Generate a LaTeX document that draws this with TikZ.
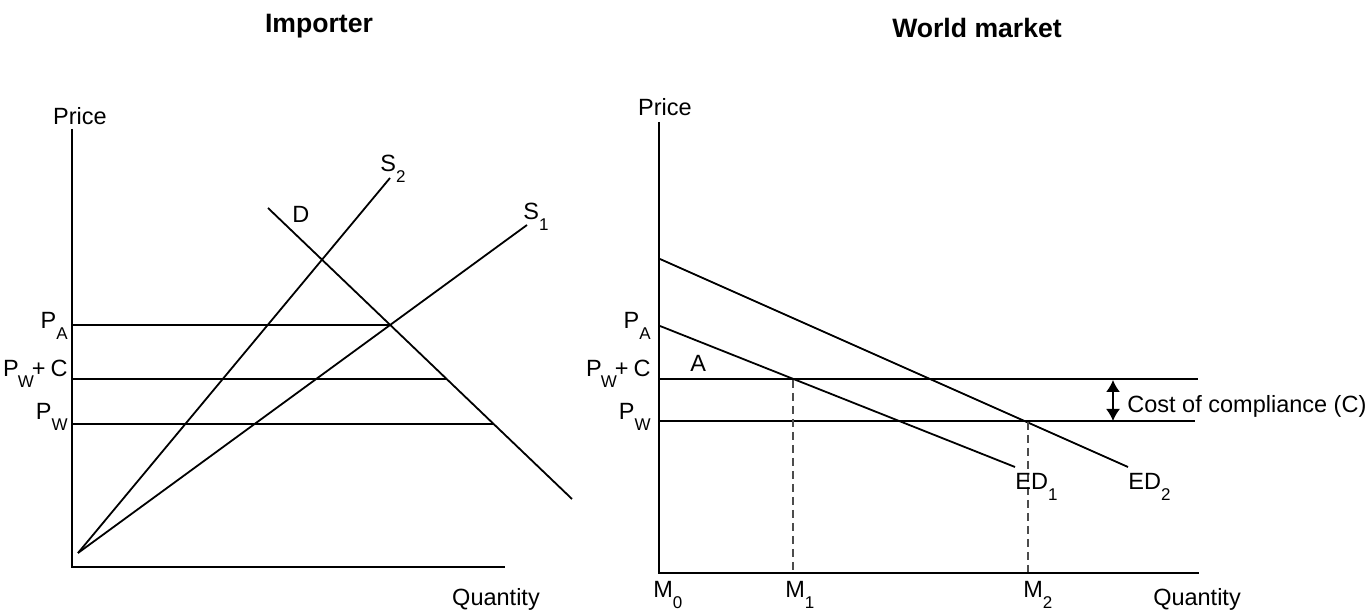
\documentclass[tikz,border=0pt]{standalone}
\usepackage{fontspec}
\setmainfont{Liberation Sans}
\usetikzlibrary{arrows.meta}
\newcommand\lowsub[1]{\raisebox{-5.5pt}{\fontsize{8.5}{9}\selectfont #1}}
\newcommand\pwc{P\kern-0.5pt\lowsub{W}\kern-1pt+\kern2.5pt C}
\tikzset{
  axis/.style={line width=1pt},
  curve/.style={line width=0.9pt},
  level/.style={line width=0.9pt},
  guide/.style={line width=0.7pt, black!70, dash pattern=on 4pt off 2.5pt},
  lbl/.style={inner sep=0pt, font=\fontsize{11.75}{13}\selectfont},
  ttl/.style={inner sep=0pt, font=\fontsize{13.3}{15}\selectfont\bfseries},
  tip/.style={line width=0.8pt, {Latex[length=6pt,width=7pt]}-{Latex[length=6pt,width=7pt]}},
}
\begin{document}
\begin{tikzpicture}[x=0.5pt,y=-0.5pt]
\useasboundingbox (0,0) rectangle (1372,613);
% titles
\node[ttl, anchor=base] (t1) at (319,33) {Importer};
\node[ttl, anchor=base] (t2) at (977,38) {World market};

% ---------- Left panel ----------
\coordinate (LO) at (72,567);
\coordinate (LYt) at (72,129);
\coordinate (LXe) at (505,567);
\draw[axis] (LYt) -- (LO) -- (LXe);
\node[lbl, anchor=base] (lp) at (80,125) {Price};
\node[lbl, anchor=base] (lq) at (496,606) {Quantity};

\coordinate (S0) at (78,553);
\coordinate (S2e) at (390,178);
\coordinate (S1e) at (527,225);
\coordinate (Da) at (268,208);
\coordinate (Db) at (572,499);
\draw[curve] (S0) -- (S2e);
\draw[curve] (S0) -- (S1e);
\draw[curve] (Da) -- (Db);

\coordinate (LPAa) at (72,325);  \coordinate (LPAb) at (390,325);
\coordinate (LPCa) at (72,379);  \coordinate (LPCb) at (447,379);
\coordinate (LPWa) at (72,424);  \coordinate (LPWb) at (493,424);
\draw[level] (LPAa) -- (LPAb);
\draw[level] (LPCa) -- (LPCb);
\draw[level] (LPWa) -- (LPWb);

\node[lbl, anchor=base west] (ls2) at (380,172) {S\lowsub{2}};
\node[lbl, anchor=base west] (ls1) at (523,220) {S\lowsub{1}};
\node[lbl, anchor=base west] (ld) at (292,223) {D};
\node[lbl, anchor=base east] (lpa) at (68,329) {P\lowsub{A}};
\node[lbl, anchor=base east] (lpc) at (68,377) {\pwc};
\node[lbl, anchor=base east] (lpw) at (68,420) {P\lowsub{W}};

% ---------- Right panel ----------
\coordinate (RO) at (659,573);
\coordinate (RYt) at (659,122);
\coordinate (RXe) at (1199,573);
\draw[axis] (RYt) -- (RO) -- (RXe);
\node[lbl, anchor=base] (rp) at (665,116) {Price};
\node[lbl, anchor=base] (rq) at (1197,606) {Quantity};

\coordinate (E2a) at (660,259); \coordinate (E2b) at (1128,467);
\coordinate (E1a) at (660,326); \coordinate (E1b) at (1015,467);
\draw[curve] (E2a) -- (E2b);
\draw[curve] (E1a) -- (E1b);

\coordinate (RPCa) at (659,379); \coordinate (RPCb) at (1198,379);
\coordinate (RPWa) at (659,421); \coordinate (RPWb) at (1195,421);
\draw[level] (RPCa) -- (RPCb);
\draw[level] (RPWa) -- (RPWb);

\coordinate (M1t) at (793,380); \coordinate (M1b) at (793,572);
\coordinate (M2t) at (1028,422); \coordinate (M2b) at (1028,572);
\draw[guide] (M1t) -- (M1b);
\draw[guide] (M2t) -- (M2b);

\coordinate (Ca) at (1113,380); \coordinate (Cb) at (1113,421);
\draw[tip] (Ca) -- (Cb);
\node[lbl, anchor=base west] (cc) at (1127,413) {Cost of compliance (C)};

\node[lbl, anchor=base east] (rpa) at (651,329) {P\lowsub{A}};
\node[lbl, anchor=base east] (rpc) at (651,377) {\pwc};
\node[lbl, anchor=base east] (rpw) at (651,420) {P\lowsub{W}};
\node[lbl, anchor=base west] (ra) at (690,372) {A};
\node[lbl, anchor=base west] (red1) at (1015,490) {ED\lowsub{1}};
\node[lbl, anchor=base west] (red2) at (1128,490) {ED\lowsub{2}};
\node[lbl, anchor=base west] (m0) at (653,598) {M\lowsub{0}};
\node[lbl, anchor=base west] (m1) at (785,598) {M\lowsub{1}};
\node[lbl, anchor=base west] (m2) at (1023,598) {M\lowsub{2}};
\end{tikzpicture}
\end{document}
